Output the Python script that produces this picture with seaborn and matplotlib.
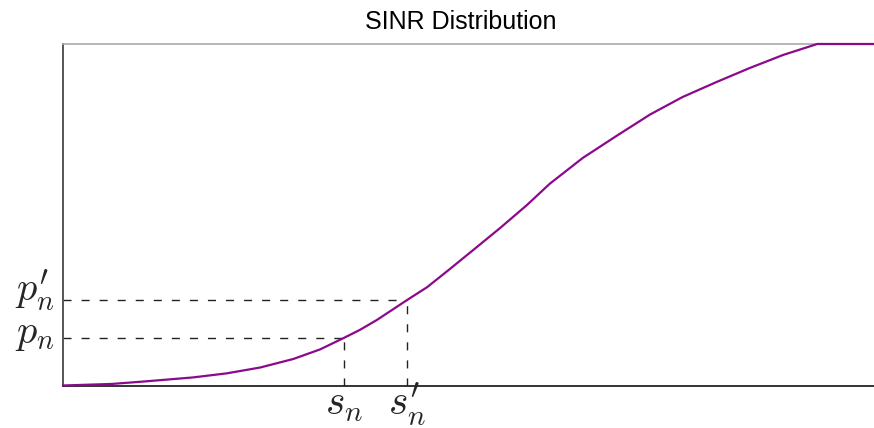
import matplotlib
matplotlib.use("Agg")
import matplotlib.pyplot as plt
import matplotlib.transforms as mtransforms
import seaborn as sns
import pandas as pd

# SINR cumulative distribution read at a set of SINR positions
sinr = [0, 6.0, 9.9, 16.0, 20.2, 24.3, 28.4, 31.7, 34.5, 36.6, 38.7, 42.4,
        44.9, 47.7, 50.6, 53.9, 57.2, 60.0, 64.1, 68.3, 72.4, 76.4, 80.6,
        84.7, 88.8, 93.0, 100]
cdf = [0.0015, 0.006, 0.013, 0.025, 0.037, 0.054, 0.079, 0.107, 0.139, 0.164,
       0.193, 0.251, 0.289, 0.342, 0.398, 0.462, 0.529, 0.591, 0.667, 0.732,
       0.794, 0.845, 0.889, 0.930, 0.968, 1.0, 1.0]

# marked thresholds and their probabilities
s_marks = [34.6, 42.4]
p_marks = [0.140, 0.251]
x_labels = [r"$s_n$", r"$s_n'$"]
y_labels = [r"$p_n$", r"$p_n'$"]

sns.set_theme(style="white")
plt.rcParams["mathtext.fontset"] = "cm"
plt.rcParams["font.family"] = ["Liberation Sans", "DejaVu Sans"]

fig = plt.figure(figsize=(8.74, 4.28), dpi=100)
ax = fig.add_axes([63 / 874, 42 / 428, 1 - 63 / 874, 342 / 428])

df = pd.DataFrame({"SINR": sinr, "CDF": cdf})
sns.lineplot(data=df, x="SINR", y="CDF", ax=ax, color="#8b0a8b",
             linewidth=1.6, clip_on=False, zorder=5)

dash = (0, (5.8, 7.2))
for s, p in zip(s_marks, p_marks):
    ax.plot([0, s], [p, p], color="#222222", linestyle=dash, linewidth=1.0)
    ax.plot([s, s], [0, p], color="#222222", linestyle=dash, linewidth=1.0)

ax.set_xlim(0, 100)
ax.set_ylim(0, 1)
ax.set_xticks([])
ax.set_yticks([])
ax.set_xlabel("")
ax.set_ylabel("")

# threshold labels, aligned on their baselines
x_trans = mtransforms.blended_transform_factory(ax.transData, ax.transAxes)
for s, lab in zip(s_marks, x_labels):
    ax.text(s, -29 / 342, lab, transform=x_trans, ha="center", va="baseline",
            fontsize=30)

y_trans = mtransforms.blended_transform_factory(ax.transAxes, ax.transData)
for p, lab, drop in zip(p_marks, y_labels, [5, 1]):
    ax.text(-8 / 811, p - drop / 342, lab, transform=y_trans, ha="right",
            va="baseline", fontsize=29)

ax.spines["left"].set_color("#555555")
ax.spines["left"].set_linewidth(1.4)
ax.spines["bottom"].set_color("#111111")
ax.spines["bottom"].set_linewidth(1.2)
ax.spines["top"].set_color("#aaaaaa")
ax.spines["top"].set_linewidth(1.2)
ax.spines["right"].set_visible(False)

fig.text(461 / 874, 1 - 22 / 428, "SINR Distribution", ha="center", va="center",
         fontsize=18, color="black")

fig.savefig("out.png", dpi=100, facecolor="white")
